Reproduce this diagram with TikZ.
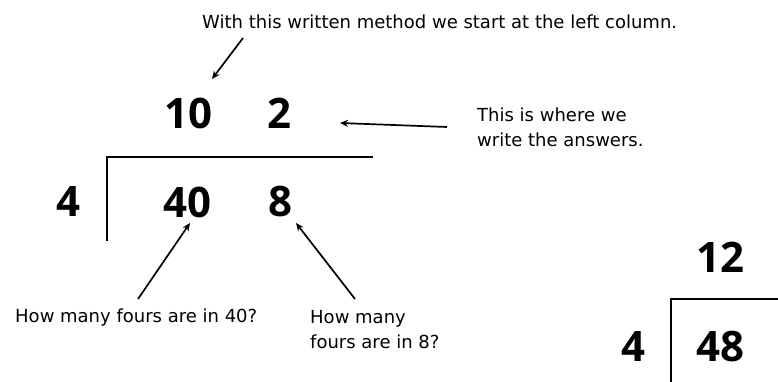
\documentclass[tikz,border=0pt]{standalone}
\usepackage{fontspec}
\setmainfont{DejaVu Sans}
\newfontfamily\numfont{Open Sans}
\usetikzlibrary{arrows.meta}
\tikzset{
  note/.style={inner sep=0pt, font=\fontsize{18}{25}\selectfont, align=left},
  num/.style={inner sep=0pt, font=\numfont\bfseries\fontsize{42}{42}\selectfont},
  arr/.style={line width=1.7pt, -{Stealth[length=8pt,width=7pt]}},
  bar/.style={line width=1.7pt}
}
\begin{document}
\begin{tikzpicture}[x=1pt,y=-1pt]
\useasboundingbox[fill=white] (0,0) rectangle (778,382);
% texts
\node[note, anchor=west] (top) at (202,22) {With this written method we start at the left column.};
\node[note, anchor=north west] (ans) at (477,108) {This is where we\\write the answers.};
\node[note, anchor=west] (q40) at (15,318) {How many fours are in 40?};
\node[note, anchor=north west] (q8) at (310,310) {How many\\fours are in 8?};
% numbers
\node[num] (n10) at (188,113) {10};
\node[num] (n2) at (279,113) {2};
\node[num] (d4) at (68,202) {4};
\node[num] (n40) at (187,202) {40};
\node[num] (n8) at (280,202) {8};
\node[num] (r12) at (720,257) {12};
\node[num] (rd4) at (633,347) {4};
\node[num] (r48) at (720,347) {48};
% bracket
\coordinate (bl) at (107,241);
\coordinate (tl) at (107,157);
\coordinate (tr) at (373,157);
\draw[bar] (bl) -- (tl) -- (tr);
\coordinate (rbl) at (671,383);
\coordinate (rtl) at (671,299);
\coordinate (rtr) at (779,299);
\draw[bar] (rbl) -- (rtl) -- (rtr);
% arrows
\coordinate (t1) at (243,38);
\coordinate (h1) at (212,79);
\draw[arr] (t1) -- (h1);
\coordinate (t2) at (447,127);
\coordinate (h2) at (340,123);
\draw[arr] (t2) -- (h2);
\coordinate (t3) at (138,299);
\coordinate (h3) at (190,223);
\draw[arr] (t3) -- (h3);
\coordinate (t4) at (355,299);
\coordinate (h4) at (296,223);
\draw[arr] (t4) -- (h4);
\end{tikzpicture}
\end{document}
